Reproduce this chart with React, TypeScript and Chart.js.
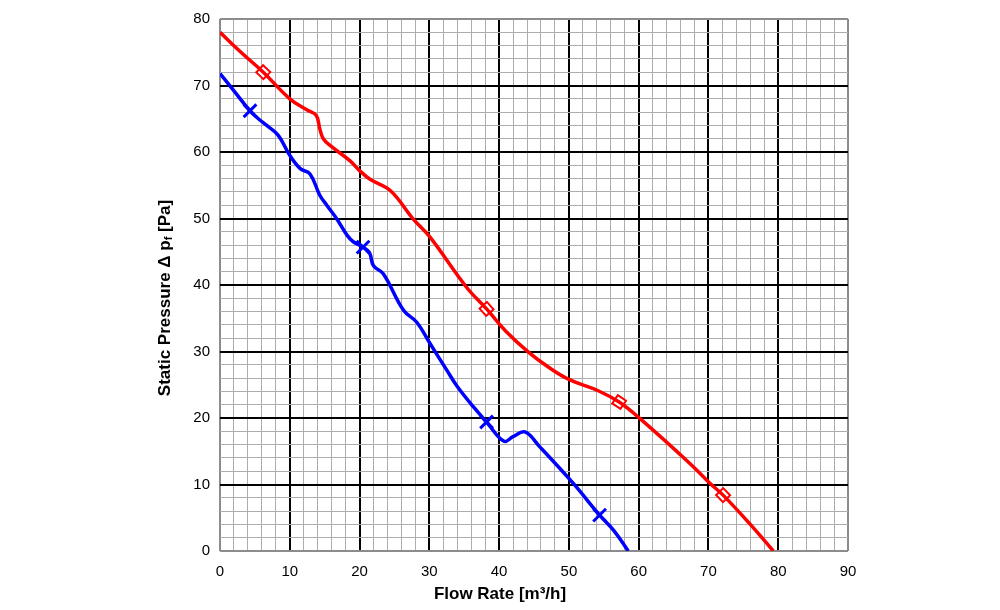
import React, { useEffect, useRef } from "react";
import Chart from "chart.js/auto";

// curve samples (flow rate m³/h, static pressure Pa)
const redFlow = [0, 3, 6.2, 10, 12.5, 13.8, 14.3, 14.8, 16, 18.6, 20, 21.5, 24.4, 27.7, 30.1, 35.3, 38.2, 41, 44.2, 47, 50, 54.2, 57.2, 60.2, 67.3, 70.2, 72.1, 76, 79.3];
const redPressure = [78, 75, 72, 68, 66.3, 65.5, 63.5, 62, 60.8, 58.7, 57.2, 55.9, 54.2, 49.9, 47.2, 39.7, 36.4, 33, 29.9, 27.7, 25.8, 24.1, 22.4, 19.9, 13.2, 10.2, 8.4, 4, 0];

const blueFlow = [0, 2, 4.3, 5.5, 6.7, 8.35, 10, 11.5, 12.9, 14.3, 15.3, 16.7, 18.2, 19.1, 20.5, 21.4, 22, 23.4, 26.3, 28.2, 30.1, 32.5, 33.9, 36.3, 38.2, 40.7, 42, 43.7, 45.8, 50.6, 54.4, 56.5, 58.5];
const bluePressure = [71.8, 69.2, 66.2, 65, 64, 62.5, 59.5, 57.5, 56.7, 53.5, 52, 50, 47.5, 46.5, 45.7, 44.9, 42.9, 41.7, 36.2, 34.4, 31.2, 27.2, 24.9, 21.7, 19.4, 16.5, 17.2, 17.9, 15.7, 10.2, 5.4, 3, 0];

// measured points carrying markers
const redMarkFlow = [6.2, 38.2, 57.2, 72.1];
const redMarkPressure = [72, 36.4, 22.4, 8.4];
const redMarkAngle = [44, 48, 34, 46];
const blueMarkFlow = [4.3, 20.5, 38.2, 54.4];
const blueMarkPressure = [66.2, 45.7, 19.4, 5.4];

const xMin = 0;
const xMax = 90;
const yMin = 0;
const yMax = 80;

const FONT = "'Liberation Sans', Arial, sans-serif";

const toPoints = (xs: number[], ys: number[]) => xs.map((x, i) => ({ x, y: ys[i] }));

const gridColor = (value: number, min: number, max: number) => {
  if (value === min || value === max) return "#8c8c8c";
  return value % 10 === 0 ? "#000000" : "#adadad";
};
const gridWidth = (value: number, min: number, max: number) => {
  if (value === min || value === max) return 2;
  return value % 10 === 0 ? 2 : 1;
};

const titles = {
  id: "titles",
  afterDraw(chart: Chart) {
    const ctx = chart.ctx;
    ctx.save();
    ctx.fillStyle = "#000";
    ctx.textBaseline = "middle";

    // x title, centred on the page
    ctx.font = `bold 17px ${FONT}`;
    ctx.textAlign = "center";
    ctx.fillText("Flow Rate [m³/h]", 500, 594);

    // y title with subscript f
    const main = "Static Pressure Δ p";
    const sub = "f";
    const tail = " [Pa]";
    ctx.font = `bold 17px ${FONT}`;
    const wMain = ctx.measureText(main).width;
    const wTail = ctx.measureText(tail).width;
    ctx.font = `bold 11px ${FONT}`;
    const wSub = ctx.measureText(sub).width;
    const total = wMain + wSub + wTail;

    ctx.translate(165, 298);
    ctx.rotate(-Math.PI / 2);
    ctx.textAlign = "left";
    let x = -total / 2;
    ctx.font = `bold 17px ${FONT}`;
    ctx.fillText(main, x, 0);
    x += wMain;
    ctx.font = `bold 11px ${FONT}`;
    ctx.fillText(sub, x, 4);
    x += wSub;
    ctx.font = `bold 17px ${FONT}`;
    ctx.fillText(tail, x, 0);
    ctx.restore();
  },
};

const App: React.FC = () => {
  const chartRef = useRef<HTMLCanvasElement | null>(null);

  useEffect(() => {
    if (!chartRef.current) return;
    const myChart = new Chart(chartRef.current, {
      type: "scatter",
      data: {
        datasets: [
          {
            data: toPoints(redFlow, redPressure),
            showLine: true,
            borderColor: "#ff0000",
            borderWidth: 3.5,
            pointRadius: 0,
            tension: 0.4,
          },
          {
            data: toPoints(blueFlow, bluePressure),
            showLine: true,
            borderColor: "#0000ff",
            borderWidth: 3.5,
            pointRadius: 0,
            tension: 0.4,
          },
          {
            data: toPoints(redMarkFlow, redMarkPressure),
            showLine: false,
            pointStyle: "rect",
            pointRotation: redMarkAngle,
            pointRadius: 7,
            pointBorderWidth: 2,
            pointBorderColor: "#ff0000",
            pointBackgroundColor: "#ffffff",
          },
          {
            data: toPoints(blueMarkFlow, blueMarkPressure),
            showLine: false,
            pointStyle: "crossRot",
            pointRadius: 9,
            pointBorderWidth: 3,
            pointBorderColor: "#0000ff",
          },
        ],
      },
      options: {
        animation: false,
        responsive: true,
        maintainAspectRatio: false,
        layout: { padding: { left: 0, right: 152, top: 18, bottom: 0 } },
        plugins: {
          legend: { display: false },
          tooltip: { enabled: false },
        },
        scales: {
          x: {
            type: "linear",
            min: xMin,
            max: xMax,
            afterFit: (scale: any) => {
              scale.height = 59;
            },
            border: { display: false },
            grid: {
              drawTicks: false,
              color: (c: any) => gridColor(c.tick.value, xMin, xMax),
              lineWidth: (c: any) => gridWidth(c.tick.value, xMin, xMax),
            },
            ticks: {
              stepSize: 2,
              autoSkip: false,
              maxRotation: 0,
              padding: 12,
              color: "#000",
              font: { family: FONT, size: 15 },
              callback: (v: any) => (Number(v) % 10 === 0 ? String(v) : ""),
            },
          },
          y: {
            type: "linear",
            min: yMin,
            max: yMax,
            afterFit: (scale: any) => {
              scale.width = 220;
            },
            border: { display: false },
            grid: {
              drawTicks: false,
              color: (c: any) => gridColor(c.tick.value, yMin, yMax),
              lineWidth: (c: any) => gridWidth(c.tick.value, yMin, yMax),
            },
            ticks: {
              stepSize: 2,
              autoSkip: false,
              padding: 10,
              color: "#000",
              font: { family: FONT, size: 15 },
              callback: (v: any) => (Number(v) % 10 === 0 ? String(v) : ""),
            },
          },
        },
      },
      plugins: [titles],
    });

    return () => {
      myChart.destroy();
    };
  }, []);

  return (
    <div style={{ position: "absolute", left: 0, top: 0, width: 1000, height: 610, background: "#fff" }}>
      <canvas ref={chartRef} />
    </div>
  );
};

export default App;
